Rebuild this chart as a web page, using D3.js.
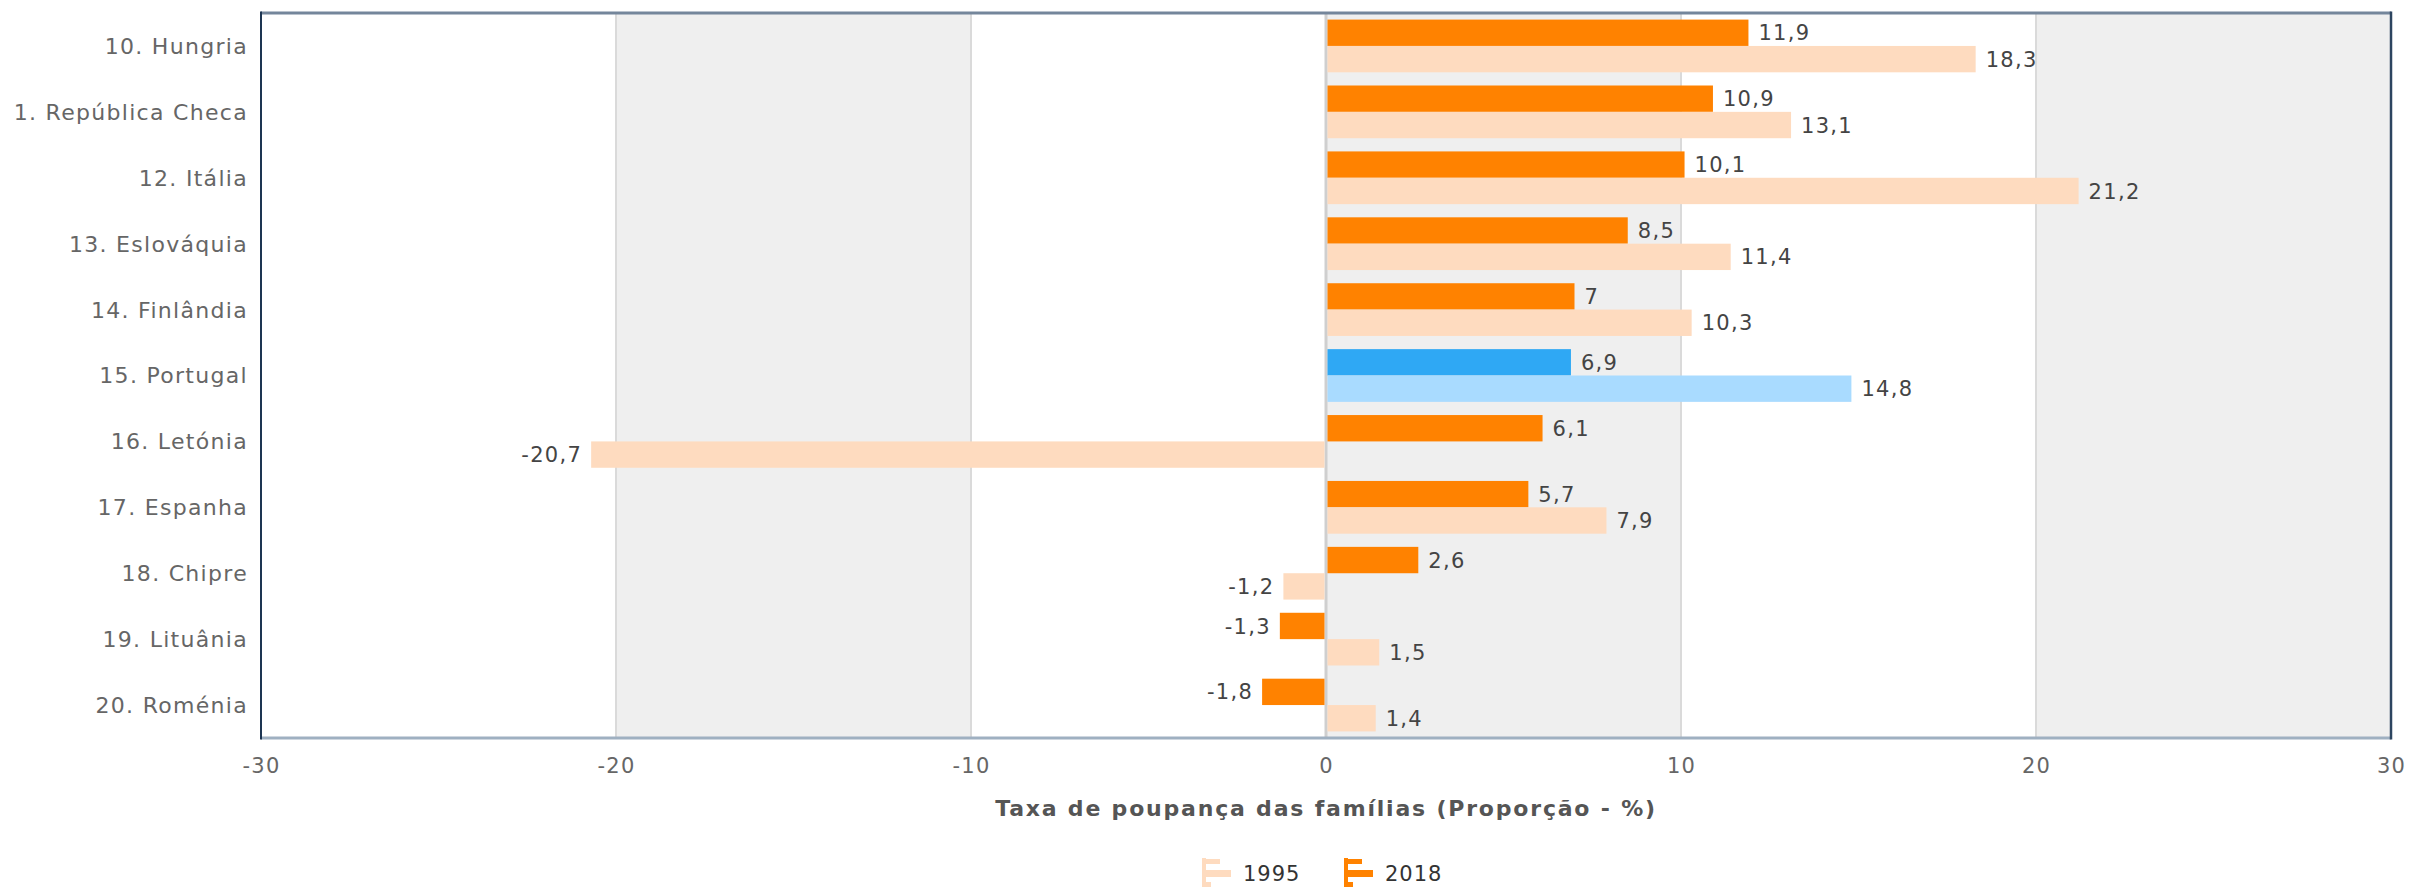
<!DOCTYPE html>
<html>
<head>
<meta charset="utf-8">
<script src="https://cdn.jsdelivr.net/npm/d3@7"></script>
<style>
  html, body { margin: 0; padding: 0; background: #fff; }
  svg { display: block; font-family: Verdana, "DejaVu Sans", sans-serif; }
</style>
</head>
<body>
<svg id="chart" width="2410" height="888"></svg>
<script>
// Chart data
const countries = [
    "10. Hungria", "1. República Checa", "12. Itália", "13. Eslováquia",
    "14. Finlândia", "15. Portugal", "16. Letónia", "17. Espanha",
    "18. Chipre", "19. Lituânia", "20. Roménia"
];
const values2018 = [11.9, 10.9, 10.1, 8.5, 7, 6.9, 6.1, 5.7, 2.6, -1.3, -1.8];
const values1995 = [18.3, 13.1, 21.2, 11.4, 10.3, 14.8, -20.7, 7.9, -1.2, 1.5, 1.4];
const seriesNames = ["2018", "1995"];
const xTicks = [-30, -20, -10, 0, 10, 20, 30];
const highlight = "15. Portugal";
const axisTitle = "Taxa de poupança das famílias (Proporção - %)";

const COLORS = {
    "2018": "#FF8200",
    "1995": "#FEDBBF",
    hl2018: "#2FA8F4",
    hl1995: "#A9DBFF"
};

const svg = d3.select("#chart");
const plot = { left: 261, right: 2391, top: 13, bottom: 738 };

const x = d3.scaleLinear().domain([-30, 30]).range([plot.left, plot.right]);
const y = d3.scaleBand().domain(countries).range([plot.top, plot.bottom]);
const inner = d3.scaleBand().domain(seriesNames)
    .range([y.bandwidth() * 0.1, y.bandwidth() * 0.9]);

const fmt = v => String(v).replace(".", ",");

// Alternate bands
const bands = d3.pairs(xTicks).filter((d, i) => i % 2 === 1);
svg.append("g")
    .selectAll("rect")
    .data(bands)
    .join("rect")
    .attr("x", d => x(d[0]))
    .attr("y", plot.top)
    .attr("width", d => x(d[1]) - x(d[0]))
    .attr("height", plot.bottom - plot.top)
    .attr("fill", "#efefef");

// Grid lines
svg.append("g")
    .selectAll("line")
    .data(xTicks.slice(1, -1))
    .join("line")
    .attr("x1", d => x(d)).attr("x2", d => x(d))
    .attr("y1", plot.top).attr("y2", plot.bottom)
    .attr("stroke", d => d === 0 ? "#cfcfcf" : "#dadada")
    .attr("stroke-width", d => d === 0 ? 3 : 2);

// Bars
const rows = countries.map((c, i) => ({
    country: c,
    items: [
        { series: "2018", value: values2018[i] },
        { series: "1995", value: values1995[i] }
    ]
}));

const row = svg.append("g")
    .selectAll("g")
    .data(rows)
    .join("g")
    .attr("transform", d => `translate(0,${y(d.country)})`);

row.selectAll("rect")
    .data(d => d.items.map(it => ({ ...it, country: d.country })))
    .join("rect")
    .attr("x", d => x(Math.min(0, d.value)) + (d.value >= 0 ? 1.5 : 0))
    .attr("y", d => inner(d.series))
    .attr("width", d => Math.abs(x(d.value) - x(0)) - 1.5)
    .attr("height", inner.bandwidth())
    .attr("fill", d => {
        if (d.country === highlight) return d.series === "2018" ? COLORS.hl2018 : COLORS.hl1995;
        return COLORS[d.series];
    });

row.selectAll("text")
    .data(d => d.items)
    .join("text")
    .attr("x", d => d.value >= 0 ? x(d.value) + 10 : x(d.value) - 9)
    .attr("y", d => inner(d.series) + inner.bandwidth() / 2)
    .attr("dy", "0.36em")
    .attr("text-anchor", d => d.value >= 0 ? "start" : "end")
    .attr("font-size", "21px")
    .attr("letter-spacing", "1.3px")
    .attr("fill", "#444")
    .text(d => fmt(d.value));

// Plot frame
const frame = svg.append("g").attr("fill", "none");
frame.append("line")
    .attr("x1", plot.left).attr("x2", plot.right)
    .attr("y1", plot.top).attr("y2", plot.top)
    .attr("stroke", "#74869b").attr("stroke-width", 3);
frame.append("line")
    .attr("x1", plot.left).attr("x2", plot.right)
    .attr("y1", plot.bottom).attr("y2", plot.bottom)
    .attr("stroke", "#9fb0c1").attr("stroke-width", 3);
frame.append("line")
    .attr("x1", plot.left).attr("x2", plot.left)
    .attr("y1", plot.top - 1.5).attr("y2", plot.bottom + 1.5)
    .attr("stroke", "#1d3552").attr("stroke-width", 2);
frame.append("line")
    .attr("x1", plot.right).attr("x2", plot.right)
    .attr("y1", plot.top - 1.5).attr("y2", plot.bottom + 1.5)
    .attr("stroke", "#2d4560").attr("stroke-width", 2.5);

// Category labels
svg.append("g")
    .selectAll("text")
    .data(countries)
    .join("text")
    .attr("x", plot.left - 13)
    .attr("y", d => y(d) + y.bandwidth() / 2)
    .attr("dy", "0.36em")
    .attr("text-anchor", "end")
    .attr("font-size", "22px")
    .attr("letter-spacing", "1.3px")
    .attr("fill", "#666")
    .text(d => d);

// X axis tick labels
const xAxis = d3.axisBottom(x).tickValues(xTicks).tickFormat(d => String(d)).tickSize(0).tickPadding(0);
const axisG = svg.append("g")
    .attr("transform", `translate(0,${plot.bottom})`)
    .call(xAxis);
axisG.select(".domain").remove();
axisG.selectAll("text")
    .attr("y", 27)
    .attr("dy", "0.36em")
    .attr("font-size", "21px")
    .attr("letter-spacing", "1.2px")
    .attr("font-family", 'Verdana, "DejaVu Sans", sans-serif')
    .attr("fill", "#666");

// Axis title
svg.append("text")
    .attr("x", x(0))
    .attr("y", 808)
    .attr("dy", "0.36em")
    .attr("text-anchor", "middle")
    .attr("font-size", "22px")
    .attr("font-weight", "bold")
    .attr("letter-spacing", "1.8px")
    .attr("fill", "#555")
    .text(axisTitle);

// Legend
const legendItems = [
    { name: "1995", color: COLORS["1995"], x: 1202 },
    { name: "2018", color: COLORS["2018"], x: 1344 }
];
const legend = svg.append("g")
    .selectAll("g")
    .data(legendItems)
    .join("g")
    .attr("transform", d => `translate(${d.x},858)`);
legend.append("rect").attr("x", 0).attr("y", 0).attr("width", 4).attr("height", 29).attr("fill", d => d.color);
legend.append("rect").attr("x", 0).attr("y", 1).attr("width", 18).attr("height", 5).attr("fill", d => d.color);
legend.append("rect").attr("x", 0).attr("y", 12).attr("width", 29).attr("height", 7).attr("fill", d => d.color);
legend.append("rect").attr("x", 0).attr("y", 24).attr("width", 9).attr("height", 5).attr("fill", d => d.color);
legend.append("text")
    .attr("x", 41)
    .attr("y", 15)
    .attr("dy", "0.36em")
    .attr("font-size", "21px")
    .attr("letter-spacing", "1px")
    .attr("fill", "#333")
    .text(d => d.name);
</script>
</body>
</html>
